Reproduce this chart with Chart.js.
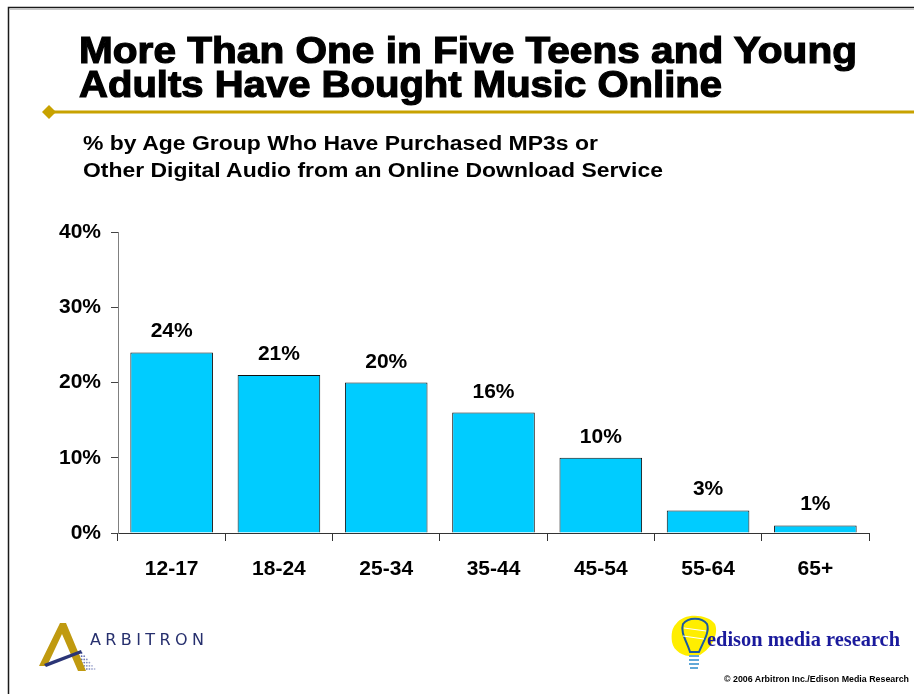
<!DOCTYPE html>
<html>
<head>
<meta charset="utf-8">
<title>Online music purchases by age</title>
<script src="https://cdn.jsdelivr.net/npm/chart.js@4/dist/chart.umd.min.js"></script>
<style>
  html, body { margin: 0; padding: 0; background: #fff; }
  #wrap { position: relative; width: 914px; height: 694px; overflow: hidden; }
  #chart { position: absolute; left: 0; top: 0; }
  #deco { position: absolute; left: 0; top: 0; pointer-events: none; }
  .ttl { font-family: "Liberation Sans", Arial, sans-serif; font-weight: bold; fill: #000; stroke: #000; stroke-width: 1.2px; }
  .sub { font-family: "Liberation Sans", Arial, sans-serif; font-weight: bold; font-size: 20px; fill: #000; }
</style>
</head>
<body>
<div id="wrap">
  <canvas id="chart" width="914" height="694"></canvas>
  <svg id="deco" width="914" height="694" xmlns="http://www.w3.org/2000/svg">
    <!-- slide frame -->
    <path d="M8.5,694 V7.5 H914" fill="none" stroke="#1a1a1a" stroke-width="1.5"/>
    <line x1="9" y1="9.5" x2="914" y2="9.5" stroke="#c8c8c8" stroke-width="1"/>

    <!-- headline -->
    <text class="ttl" x="79" y="63" font-size="37" textLength="778" lengthAdjust="spacingAndGlyphs">More Than One in Five Teens and Young</text>
    <text class="ttl" x="79" y="97" font-size="37" textLength="643" lengthAdjust="spacingAndGlyphs">Adults Have Bought Music Online</text>

    <!-- gold rule with diamond -->
    <line x1="50" y1="112" x2="914" y2="112" stroke="#c8a200" stroke-width="3"/>
    <polygon points="42,112 49,105 56,112 49,119" fill="#c8a200"/>

    <!-- chart subtitle -->
    <text class="sub" x="83" y="150" textLength="515" lengthAdjust="spacingAndGlyphs">% by Age Group Who Have Purchased MP3s or</text>
    <text class="sub" x="83" y="177" textLength="580" lengthAdjust="spacingAndGlyphs">Other Digital Audio from an Online Download Service</text>

    <!-- Arbitron logo -->
    <g id="arbitron">
      <g id="arbDots" fill="#3a4a9a"></g>
      <polygon points="39,666 60,623 66,623 86,671 78,671 62,634 47,666" fill="#c09a10"/>
      <polygon points="44,664 81,650 82,653 46,667" fill="#2b3576"/>
      <text x="90" y="645" font-family="'DejaVu Sans', 'Liberation Sans', sans-serif" font-size="16" fill="#27306e" textLength="114" lengthAdjust="spacing">ARBITRON</text>
    </g>

    <!-- Edison logo -->
    <g id="edison">
      <path d="M676,624 C684,612 708,614 715,624 C719,634 712,648 700,655 C690,659 674,654 672,642 C671,634 672,628 676,624 Z" fill="#ffee00"/>
      <path d="M683,624 C688,617 702,617 707,624 C710,632 703,642 699,652 L690,652 C687,642 680,632 683,624 Z" fill="none" stroke="#1a5aa0" stroke-width="2"/>
      <path d="M684,628 L706,631 M683,636 L704,639" stroke="#ffffff" stroke-width="1"/>
      <path d="M689,656 H699 M689,660 H699 M689,664 H699 M690,668 H698" stroke="#60a8d8" stroke-width="2"/>
      <text x="707" y="646" font-family="'Liberation Serif', 'Times New Roman', serif" font-weight="bold" font-size="22" fill="#1a1a9c" textLength="193" lengthAdjust="spacingAndGlyphs">edison media research</text>
      <text x="724" y="682" font-family="'Liberation Sans', Arial, sans-serif" font-weight="bold" font-size="8.5" fill="#000" textLength="185" lengthAdjust="spacingAndGlyphs">© 2006 Arbitron Inc./Edison Media Research</text>
    </g>
  </svg>
</div>
<script>
// share of each age group that has bought digital audio online
const ageGroups = ['12-17', '18-24', '25-34', '35-44', '45-54', '55-64', '65+'];
const purchased = [24, 21, 20, 16, 10, 3, 1];
const yTicks = [0, 10, 20, 30, 40];

const FONT = '"Liberation Sans", Arial, sans-serif';

// dotted fade beside the Arbitron "A"
let dots = document.getElementById('arbDots');
for (let r = 0; r < 6; r++) {
  for (let c = 0; c <= r + 1; c++) {
    let d = document.createElementNS('http://www.w3.org/2000/svg', 'circle');
    d.setAttribute('cx', 79 + c * 2.6);
    d.setAttribute('cy', 653 + r * 3.2);
    d.setAttribute('r', 0.9);
    d.setAttribute('opacity', 0.9 - c * 0.09);
    dots.appendChild(d);
  }
}

// values printed above each bar
const barLabels = {
  id: 'barLabels',
  afterDatasetsDraw(chart) {
    let ctx = chart.ctx;
    let meta = chart.getDatasetMeta(0);
    ctx.save();
    ctx.font = 'bold 21px ' + FONT;
    ctx.fillStyle = '#000';
    ctx.textAlign = 'center';
    ctx.textBaseline = 'alphabetic';
    meta.data.forEach((bar, i) => {
      ctx.fillText(purchased[i] + '%', bar.x, bar.y - 15);
    });
    ctx.restore();
  }
};

const data = {
  labels: ageGroups,
  datasets: [{
    data: purchased,
    backgroundColor: '#00ccff',
    borderColor: '#111',
    borderWidth: 1,
    barPercentage: 0.77,
    categoryPercentage: 1
  }]
};

const config = {
  type: 'bar',
  data: data,
  plugins: [barLabels],
  options: {
    responsive: false,
    animation: false,
    devicePixelRatio: 1,
    layout: {
      padding: { top: 232, right: 45, bottom: 61, left: 0 }
    },
    plugins: {
      legend: { display: false },
      tooltip: { enabled: false }
    },
    scales: {
      x: {
        grid: {
          offset: true,
          drawOnChartArea: false,
          drawTicks: true,
          tickLength: 8,
          color: '#333'
        },
        border: { display: true, color: '#333', width: 1 },
        ticks: {
          color: '#000',
          padding: 16,
          font: { family: FONT, size: 21, weight: 'bold' }
        },
        afterFit: function(scale) { scale.height = 100; }
      },
      y: {
        min: 0,
        max: 40,
        afterBuildTicks: function(scale) {
          scale.ticks = yTicks.map(v => ({ value: v }));
        },
        grid: {
          drawOnChartArea: false,
          drawTicks: true,
          tickLength: 7,
          color: '#444'
        },
        border: { display: true, color: '#808080', width: 1 },
        ticks: {
          color: '#000',
          padding: 10,
          font: { family: FONT, size: 21, weight: 'bold' },
          callback: function(value) { return value + '%'; }
        },
        afterFit: function(scale) { scale.width = 118; }
      }
    }
  }
};

var chart = new Chart(document.getElementById('chart'), config);
</script>
</body>
</html>
